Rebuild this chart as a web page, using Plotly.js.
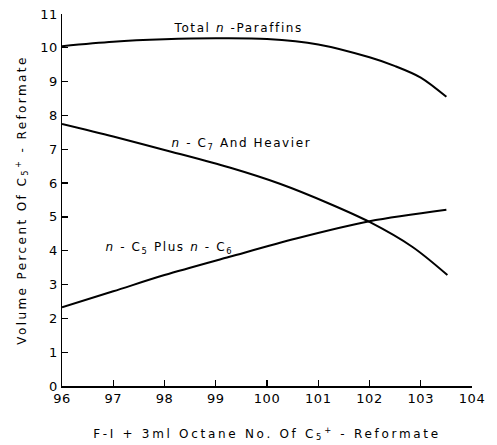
<!DOCTYPE html>
<html>
<head>
<meta charset="utf-8">
<script src="https://cdn.plot.ly/plotly-3.0.1.min.js"></script>
<style>
html,body{margin:0;padding:0;background:#fff;}
#chart{width:497px;height:445px;}
#chart .xtitle {letter-spacing: 2.7px;}
#chart .ytitle {letter-spacing: 2.4px;}
#chart .annotation-text {letter-spacing: 1.6px;}
#chart .xtick text, #chart .ytick text {letter-spacing: 0.5px;}
</style>
</head>
<body>
<div id="chart"></div>
<script>
// Octane number (x) and volume percent (y)
var totalX = [96.0, 97.0, 98.0, 99.0, 100.0, 101.0, 102.0, 102.5, 103.0, 103.5];
var totalY = [10.05, 10.18, 10.25, 10.28, 10.26, 10.10, 9.72, 9.46, 9.12, 8.55];

var c7X = [96.0, 97.0, 98.0, 99.27, 100.25, 101.22, 102.0, 102.84, 103.52];
var c7Y = [7.75, 7.38, 6.98, 6.46, 5.98, 5.39, 4.85, 4.11, 3.28];

var c56X = [96.0, 97.0, 98.0, 99.27, 100.57, 102.0, 103.5];
var c56Y = [2.33, 2.80, 3.28, 3.82, 4.36, 4.87, 5.21];

var xTicks = [96, 97, 98, 99, 100, 101, 102, 103, 104];
var yTicks = [0, 1, 2, 3, 4, 5, 6, 7, 8, 9, 10, 11];

var labelTotal = "Total <i>n</i> -Paraffins";
var labelC7 = "<i>n</i> - C<sub>7</sub> And Heavier";
var labelC56 = "<i>n</i> - C<sub>5</sub> Plus <i>n</i> - C<sub>6</sub>";
var xTitle = "F-I + 3ml Octane No. Of C<sub>5</sub><sup>+</sup> - Reformate";
var yTitle = "Volume Percent Of C<sub>5</sub><sup>+</sup> - Reformate";

var lineStyle = {color: "#000", width: 2, shape: "spline", smoothing: 0.9};
var traces = [
  {x: totalX, y: totalY, mode: "lines", line: lineStyle, hoverinfo: "skip"},
  {x: c7X, y: c7Y, mode: "lines", line: lineStyle, hoverinfo: "skip"},
  {x: c56X, y: c56Y, mode: "lines", line: lineStyle, hoverinfo: "skip"}
];

var fam = "DejaVu Sans, sans-serif";
var layout = {
  width: 497, height: 445,
  margin: {l: 62, r: 25, t: 14, b: 58.5},
  paper_bgcolor: "#fff", plot_bgcolor: "#fff",
  showlegend: false,
  font: {family: fam, color: "#000", size: 12},
  xaxis: {
    range: [96, 104], tickvals: xTicks, ticktext: xTicks.map(String),
    ticks: "inside", ticklen: 6, tickwidth: 1.2, tickcolor: "#000",
    showline: true, linecolor: "#000", linewidth: 1.5,
    showgrid: false, zeroline: false,
    tickfont: {family: fam, size: 13, color: "#000"},
    title: {text: xTitle, font: {family: fam, size: 12, color: "#000"}, standoff: 24}
  },
  yaxis: {
    range: [0, 11], tickvals: yTicks, ticktext: yTicks.map(String),
    ticks: "inside", ticklen: 6, tickwidth: 1.2, tickcolor: "#000",
    showline: true, linecolor: "#000", linewidth: 1.5,
    showgrid: false, zeroline: false,
    tickfont: {family: fam, size: 13, color: "#000"},
    title: {text: yTitle, font: {family: fam, size: 12, color: "#000"}, standoff: 12}
  },
  annotations: [
    {x: 99.43, y: 10.58, xref: "x", yref: "y", text: labelTotal, showarrow: false, font: {family: fam, size: 12, color: "#000"}},
    {x: 99.5, y: 7.15, xref: "x", yref: "y", text: labelC7, showarrow: false, font: {family: fam, size: 12, color: "#000"}},
    {x: 98.1, y: 4.08, xref: "x", yref: "y", text: labelC56, showarrow: false, font: {family: fam, size: 12, color: "#000"}}
  ]
};

Plotly.newPlot("chart", traces, layout, {staticPlot: true, displayModeBar: false});
</script>
</body>
</html>
